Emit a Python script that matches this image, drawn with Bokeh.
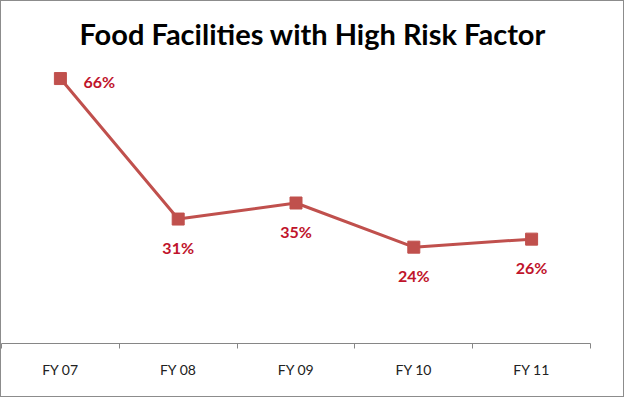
from bokeh.plotting import figure
from bokeh.models import Range1d, FixedTicker, ColumnDataSource, LabelSet
from bokeh.embed import file_html
from bokeh.resources import INLINE
from bokeh.core.properties import value

categories = ["FY 07", "FY 08", "FY 09", "FY 10", "FY 11"]
risk_share = [0.66, 0.31, 0.35, 0.24, 0.26]

xs = [i + 0.5 for i in range(len(categories))]
labels = [f"{round(v * 100)}%" for v in risk_share]

LINE_COLOR = "#C0504D"
LABEL_COLOR = "#C0142B"
FONT = "Lato"

p = figure(width=624, height=397, output_backend="svg", toolbar_location=None,
           x_range=Range1d(0, len(categories)), y_range=Range1d(0, 0.70),
           min_border_left=0, min_border_right=35, min_border_top=61,
           min_border_bottom=55)
p.styles = {"border": "1px solid #8c8c8c", "box-sizing": "border-box"}

p.title.text = "Food Facilities with High Risk Factor"
p.title.text_font = FONT
p.title.text_font_size = "29px"
p.title.text_font_style = "bold"
p.title.text_color = "#000000"
p.title.align = "left"
p.title.offset = 78
p.title.standoff = 24
p.title.text_line_height = 1.0

p.grid.visible = False
p.outline_line_color = None
p.yaxis.visible = False

src = ColumnDataSource(dict(x=xs, y=risk_share, label=labels))
p.line("x", "y", source=src, line_color=LINE_COLOR, line_width=3)
p.scatter("x", "y", source=src, marker="square", size=12,
          fill_color=LINE_COLOR, line_color=LINE_COLOR)

first = ColumnDataSource(dict(x=xs[:1], y=risk_share[:1], label=labels[:1]))
rest = ColumnDataSource(dict(x=xs[1:], y=risk_share[1:], label=labels[1:]))
p.add_layout(LabelSet(x="x", y="y", text="label", source=first,
                      x_offset=23, y_offset=-3, text_align="left",
                      text_baseline="middle", text_font=value(FONT),
                      text_font_size="16px", text_font_style="bold",
                      text_color=LABEL_COLOR))
p.add_layout(LabelSet(x="x", y="y", text="label", source=rest,
                      x_offset=0, y_offset=-28, text_align="center",
                      text_baseline="middle", text_font=value(FONT),
                      text_font_size="16px", text_font_style="bold",
                      text_color=LABEL_COLOR))

ax = p.xaxis[0]
ax.ticker = FixedTicker(ticks=xs, minor_ticks=list(range(len(categories) + 1)))
ax.major_label_overrides = {x: c for x, c in zip(xs, categories)}
ax.major_tick_line_color = None
ax.minor_tick_line_color = "#868686"
ax.minor_tick_in = 0
ax.minor_tick_out = 5
ax.axis_line_color = "#868686"
ax.axis_line_width = 1
ax.major_label_text_font = FONT
ax.major_label_text_font_size = "14px"
ax.major_label_text_color = "#222222"
ax.major_label_standoff = 11

open("out.html", "w").write(file_html(p, INLINE))
